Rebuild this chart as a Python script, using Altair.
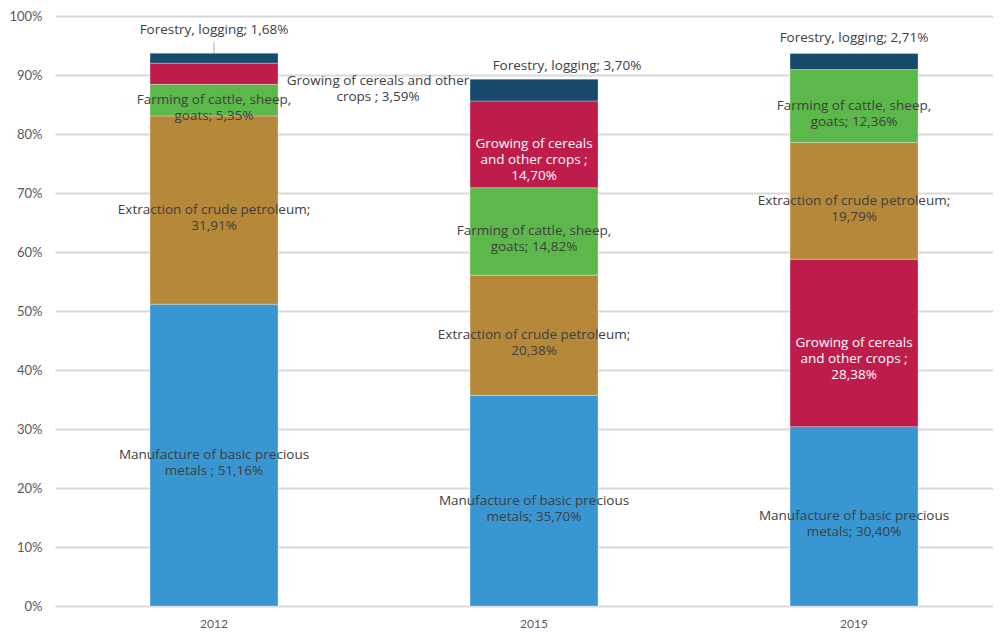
import altair as alt
import pandas as pd

years = ["2012", "2015", "2019"]
categories = [
    "Manufacture of basic precious metals",
    "Extraction of crude petroleum",
    "Farming of cattle, sheep, goats",
    "Growing of cereals and other crops",
    "Forestry, logging",
]
manufacture = [51.16, 35.70, 30.40]
extraction = [31.91, 20.38, 19.79]
farming = [5.35, 14.82, 12.36]
growing = [3.59, 14.70, 28.38]
forestry = [1.68, 3.70, 2.71]
colors = ["#3896D3", "#B5883A", "#5DB84B", "#BE1D4B", "#184A6B"]


def pct(v):
    return f"{v:.2f}".replace(".", ",") + "%"


series = [manufacture, extraction, farming, growing, forestry]
rows = []
for yi, yr in enumerate(years):
    vals = [(categories[ci], series[ci][yi]) for ci in range(len(categories))]
    ranked = sorted(vals, key=lambda t: -t[1])
    for rank, (cat, v) in enumerate(ranked):
        if cat == categories[0]:
            sep = " ; " if yr == "2012" else "; "
            label = "Manufacture of basic precious\nmetals" + sep + pct(v)
        elif cat == categories[1]:
            label = "Extraction of crude petroleum;\n" + pct(v)
        elif cat == categories[2]:
            label = "Farming of cattle, sheep,\ngoats; " + pct(v)
        elif cat == categories[3]:
            if yr == "2012":
                label = "Growing of cereals and other\ncrops ; " + pct(v)
            else:
                label = "Growing of cereals\nand other crops ;\n" + pct(v)
        else:
            label = "Forestry, logging; " + pct(v)
        rows.append({"year": yr, "category": cat, "value": v, "rank": rank, "label": label})

df = pd.DataFrame(rows)

FONT = "Open Sans"
AXFONT = "Lato"
TEXT = "#404040"
FS = 13.5

base = alt.Chart(df).transform_stack(
    stack="value", groupby=["year"], as_=["y0", "y1"],
    sort=[alt.SortField("rank", order="ascending")],
).transform_calculate(mid="(datum.y0 + datum.y1) / 2")

x = alt.X("year:N", title=None,
          scale=alt.Scale(paddingInner=0.6, paddingOuter=0.2656, align=0.559),
          axis=alt.Axis(domain=False, ticks=False, labelPadding=12, labelFontSize=12,
                        labelColor="#595959", labelFont=AXFONT, labelAngle=0))

y_scale = alt.Scale(domain=[0, 100], nice=False)

bars = base.mark_bar(stroke="#ffffff", strokeWidth=0.5, strokeOpacity=0.6).encode(
    x=x,
    y=alt.Y("y0:Q", title=None, scale=y_scale,
            axis=alt.Axis(values=list(range(0, 101, 10)), labelExpr="datum.value + '%'",
                          domain=False, ticks=False, grid=True, gridColor="#d9d9d9",
                          gridWidth=2, labelPadding=13, labelFontSize=13,
                          labelColor="#595959", labelFont=AXFONT)),
    y2="y1:Q",
    color=alt.Color("category:N", scale=alt.Scale(domain=categories, range=colors), legend=None),
)

inside = base.transform_filter(
    "datum.category != 'Forestry, logging' && !(datum.year == '2012' && datum.category == 'Growing of cereals and other crops')"
).mark_text(font=FONT, fontSize=FS, lineHeight=16, lineBreak="\n", baseline="middle", align="center").encode(
    x="year:N",
    y=alt.Y("mid:Q", scale=y_scale),
    text="label:N",
    color=alt.condition("datum.category == 'Growing of cereals and other crops'",
                        alt.value("#ffffff"), alt.value(TEXT)),
)

outside_growing = base.transform_filter(
    "datum.year == '2012' && datum.category == 'Growing of cereals and other crops'"
).mark_text(font=FONT, fontSize=FS, lineHeight=16, lineBreak="\n", baseline="middle",
            align="center", dx=164, dy=7, color=TEXT).encode(
    x="year:N", y=alt.Y("mid:Q", scale=y_scale), text="label:N")


def forestry_label(yr, dx, dy):
    return base.transform_filter(
        f"datum.year == '{yr}' && datum.category == 'Forestry, logging'"
    ).mark_text(font=FONT, fontSize=FS, baseline="middle", align="center",
                dx=dx, dy=dy, color=TEXT).encode(
        x="year:N", y=alt.Y("y1:Q", scale=y_scale), text="label:N")


f12 = forestry_label("2012", 0, -23)
f15 = forestry_label("2015", 33, -13)
f19 = forestry_label("2019", 0, -16)

leader = base.transform_filter(
    "datum.year == '2012' && datum.category == 'Forestry, logging'"
).mark_rule(color="#a6a6a6", strokeWidth=1, yOffset=-11, y2Offset=0).encode(
    x="year:N", y=alt.Y("y1:Q", scale=y_scale), y2="y1:Q")

chart = alt.layer(bars, leader, inside, outside_growing, f12, f15, f19).properties(
    width=938, height=590,
    autosize=alt.AutoSizeParams(type="none"),
    padding={"left": 47, "top": 8, "right": 0, "bottom": 28},
).configure_view(stroke=None)

chart.save("out.html", embed_options={"renderer": "svg", "actions": False})
